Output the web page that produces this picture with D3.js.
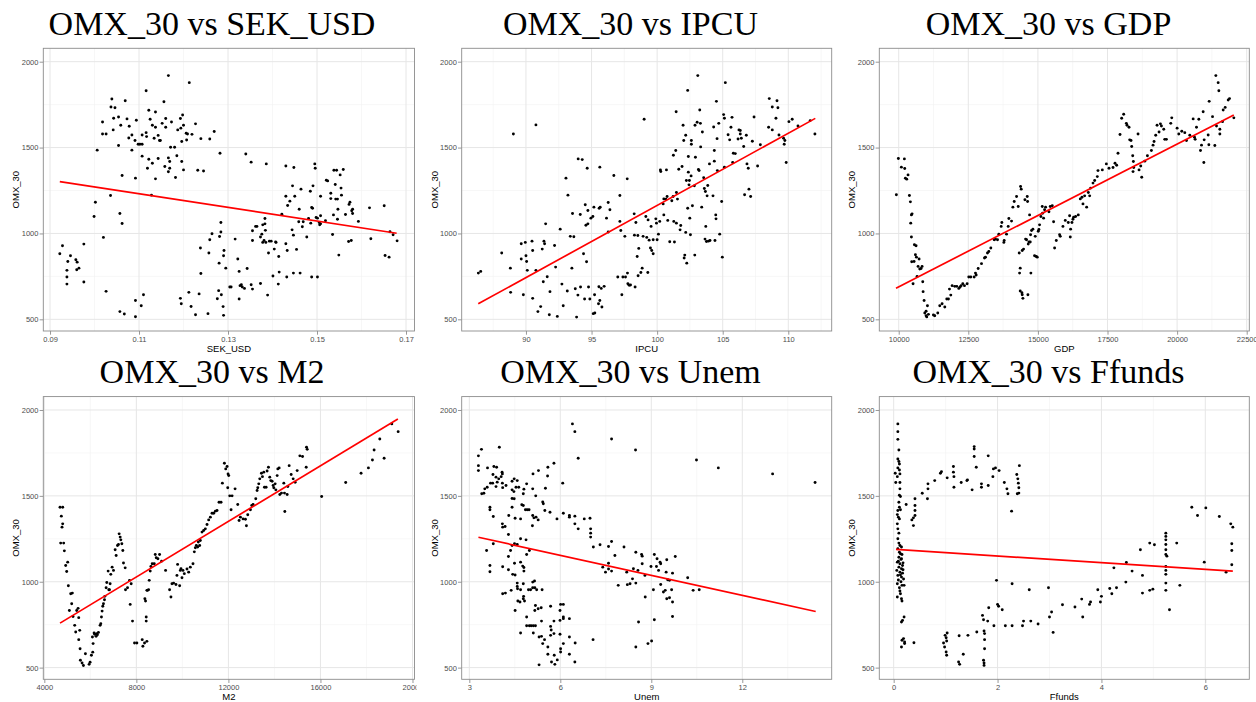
<!DOCTYPE html>
<html>
<head>
<meta charset="utf-8">
<script src="https://cdn.jsdelivr.net/npm/d3@7"></script>
<style>
  body { margin: 0; background: #fff; }
  svg { display: block; }
</style>
</head>
<body>
<div id="chart"></div>
<script>
// ---- data ----
const omxTicks = [500, 1000, 1500, 2000];
const omxMinor = [750, 1250, 1750];
const omxDomain = [432, 2078];

// SEK_USD vs OMX_30
const sekUsdPts = [
  [0.0922,882],[0.0928,928],[0.0940,837],[0.0938,785],[0.0938,746],[0.0938,705],[0.0946,870],[0.0958,847],
  [0.0961,833],[0.0960,789],[0.0965,798],[0.0976,938],[0.0976,717],[0.0999,1099],[0.1002,1182],[0.1006,1485],
  [0.1018,1649],[0.1020,977],[0.1018,1579],[0.1026,1579],[0.1026,663],[0.1036,1221],[0.1037,1736],[0.1039,1783],
  [0.1042,1603],[0.1043,1671],[0.1046,1732],[0.1054,1678],[0.1054,1512],[0.1057,1116],[0.1057,545],[0.1059,1630],
  [0.1062,1337],[0.1062,1058],[0.1067,531],[0.1069,1773],[0.1073,1667],[0.1077,1556],[0.1078,1624],[0.1084,1573],
  [0.1084,1485],[0.1091,1541],[0.1092,1322],[0.1092,610],[0.1092,515],[0.1094,1659],[0.1098,1519],[0.1102,1519],
  [0.1105,579],[0.1107,1573],[0.1107,1450],[0.1107,1519],[0.1110,643],[0.1116,1831],[0.1116,1587],[0.1117,1564],
  [0.1119,1380],[0.1122,1717],[0.1122,1432],[0.1125,1665],[0.1128,1223],[0.1130,1630],[0.1130,1409],[0.1134,1554],
  [0.1137,1707],[0.1137,1618],[0.1137,1318],[0.1143,1436],[0.1143,1571],[0.1146,1541],[0.1148,1541],[0.1152,1641],
  [0.1156,1767],[0.1158,1390],[0.1160,1618],[0.1160,1669],[0.1166,1919],[0.1166,1440],[0.1166,1359],[0.1169,1419],
  [0.1169,1380],[0.1171,1502],[0.1173,1649],[0.1180,1502],[0.1182,1326],[0.1185,1452],[0.1187,1603],[0.1193,1669],
  [0.1194,1613],[0.1196,1419],[0.1196,1535],[0.1198,1690],[0.1200,1370],[0.1200,1630],[0.1193,622],[0.1195,591],
  [0.1206,1583],[0.1207,1544],[0.1209,1579],[0.1213,1878],[0.1212,657],[0.1217,575],[0.1219,1577],[0.1227,1638],
  [0.1227,527],[0.1232,1368],[0.1235,648],[0.1238,915],[0.1239,1552],[0.1239,767],[0.1245,1364],[0.1255,533],
  [0.1257,886],[0.1259,1550],[0.1259,963],[0.1264,998],[0.1269,1594],[0.1276,620],[0.1279,667],[0.1280,827],
  [0.1281,982],[0.1282,1467],[0.1284,1064],[0.1284,1008],[0.1285,643],[0.1289,574],[0.1290,523],[0.1290,870],
  [0.1291,901],[0.1295,798],[0.1304,688],[0.1307,688],[0.1316,967],[0.1322,851],[0.1325,618],[0.1325,779],
  [0.1327,696],[0.1330,701],[0.1332,688],[0.1337,680],[0.1340,1463],[0.1343,796],[0.1352,1415],[0.1352,701],
  [0.1355,959],[0.1355,1016],[0.1355,676],[0.1362,1041],[0.1365,1041],[0.1373,709],[0.1373,979],[0.1376,996],
  [0.1378,948],[0.1378,1050],[0.1381,959],[0.1383,1056],[0.1383,1087],[0.1384,1018],[0.1385,948],[0.1386,1405],
  [0.1389,641],[0.1391,886],[0.1393,955],[0.1397,955],[0.1401,752],[0.1404,909],[0.1407,950],[0.1408,948],
  [0.1414,866],[0.1415,775],[0.1413,705],[0.1421,1112],[0.1430,1393],[0.1430,1217],[0.1430,940],[0.1432,746],
  [0.1433,901],[0.1434,1163],[0.1439,1188],[0.1444,1021],[0.1445,1277],[0.1447,990],[0.1447,769],[0.1448,1384],
  [0.1450,1217],[0.1454,907],[0.1459,1068],[0.1460,1141],[0.1462,769],[0.1464,1258],[0.1467,1039],[0.1469,1068],
  [0.1477,979],[0.1481,1087],[0.1485,1246],[0.1486,1060],[0.1488,1151],[0.1488,746],[0.1490,1147],[0.1491,1277],
  [0.1495,1405],[0.1496,1380],[0.1498,1093],[0.1501,1089],[0.1501,746],[0.1505,1064],[0.1506,1050],[0.1508,1056],
  [0.1508,1103],[0.1508,1217],[0.1519,1074],[0.1521,1310],[0.1524,1306],[0.1531,1234],[0.1531,1203],[0.1535,994],
  [0.1537,1108],[0.1538,1368],[0.1541,1285],[0.1542,1200],[0.1544,1368],[0.1546,1200],[0.1546,1083],[0.1547,1141],
  [0.1549,874],[0.1552,1341],[0.1554,1264],[0.1555,1223],[0.1559,1372],[0.1564,1110],[0.1571,953],[0.1572,1169],
  [0.1574,1182],[0.1577,959],[0.1578,1132],[0.1580,1116],[0.1580,1141],[0.1593,1070],[0.1618,1149],[0.1621,969],
  [0.1651,1161],[0.1653,872],[0.1662,862],[0.1664,1010],[0.1671,992],[0.1680,957]
];
const sekUsdFit = [[0.0922,1302],[0.1679,1001]];

// IPCU vs OMX_30
const ipcuPts = [
  [86.37,769],[86.55,779],[88.15,886],[88.81,798],[88.83,657],[89.04,1579],[89.64,940],[89.64,851],
  [89.80,643],[89.95,948],[90.00,870],[90.05,837],[90.10,785],[90.46,955],[90.51,901],[90.51,622],
  [90.76,1632],[90.76,785],[90.91,545],[91.12,574],[91.24,909],[91.32,719],[91.37,955],[91.42,940],
  [91.50,1056],[91.62,748],[91.78,527],[91.83,661],[92.18,930],[92.26,804],[92.39,517],[92.61,1025],
  [92.74,705],[92.84,579],[93.05,1322],[93.15,665],[93.20,1223],[93.38,983],[93.50,798],[93.55,1116],
  [93.65,981],[93.76,678],[93.86,513],[93.96,641],[93.98,1434],[94.14,1110],[94.16,688],[94.29,1430],
  [94.39,882],[94.47,618],[94.52,1167],[94.57,1048],[94.62,835],[94.67,1380],[94.72,1056],[94.72,1134],
  [94.77,688],[94.87,618],[94.95,1089],[95.10,1099],[95.18,1153],[95.23,643],[95.13,533],[95.25,537],
  [95.56,690],[95.63,1386],[95.58,1147],[95.53,591],[95.66,1153],[95.63,610],[95.74,680],[95.79,572],
  [95.96,692],[96.14,1089],[96.27,1180],[96.27,1008],[96.40,1138],[96.70,1337],[97.00,746],[97.16,1221],
  [97.16,1070],[97.23,1017],[97.31,643],[97.39,746],[97.54,983],[97.59,746],[97.72,1318],[97.74,769],
  [97.77,707],[97.87,698],[97.97,700],[98.25,1114],[98.27,990],[98.32,688],[98.38,1064],[98.48,866],
  [98.53,988],[98.55,754],[98.60,913],[98.76,773],[98.86,798],[98.93,983],[99.01,1665],[99.14,1099],
  [99.21,977],[99.29,773],[99.31,1079],[99.39,961],[99.49,915],[99.54,1041],[99.59,901],[99.70,882],
  [99.70,963],[99.90,1085],[99.95,1060],[100.00,963],[100.10,996],[100.20,1070],[100.25,1370],[100.28,1360],
  [100.46,1172],[100.51,1201],[100.51,1108],[100.66,1200],[100.71,1370],[100.76,1215],[100.81,1076],[100.96,952],
  [101.12,1190],[101.22,1215],[101.24,1455],[101.27,1070],[101.32,950],[101.42,1483],[101.45,1709],[101.47,1060],
  [101.47,1238],[101.55,1200],[101.65,1374],[101.75,1021],[101.80,1046],[101.90,1390],[101.98,1630],[102.03,1541],
  [102.06,857],[102.11,874],[102.18,1572],[102.18,1006],[102.23,1308],[102.26,827],[102.33,1833],[102.33,1147],
  [102.38,1448],[102.38,1357],[102.43,1283],[102.46,1308],[102.49,1089],[102.54,992],[102.59,1335],[102.61,1519],
  [102.61,1541],[102.69,1161],[102.84,1277],[102.87,874],[102.89,1630],[102.92,1444],[103.05,1647],[103.10,1919],
  [103.15,1372],[103.20,1366],[103.25,1719],[103.30,1641],[103.32,1504],[103.40,1153],[103.45,1591],[103.55,1324],
  [103.60,1262],[103.65,967],[103.68,1244],[103.71,1041],[103.76,953],[103.81,1219],[103.86,1279],[103.91,955],
  [103.99,1405],[104.03,959],[104.26,1219],[104.31,1620],[104.36,1483],[104.36,1421],[104.41,959],[104.47,1108],
  [104.49,1085],[104.52,1769],[104.57,1552],[104.59,1366],[104.70,1641],[104.77,996],[104.92,1186],[104.97,862],
  [105.07,1692],[105.13,1671],[105.13,1386],[105.20,1878],[105.41,1575],[105.53,1545],[105.63,1618],[105.71,1676],
  [105.76,1413],[105.81,1467],[105.96,1465],[106.17,1550],[106.24,1603],[106.34,1599],[106.34,1579],[106.42,1554],
  [106.60,1506],[106.67,1225],[106.80,1572],[106.85,1405],[106.95,1380],[107.00,1258],[107.13,1215],[107.26,1537],
  [107.39,1678],[107.66,1393],[107.87,1516],[108.50,1618],[108.55,1785],[108.78,1603],[108.78,1736],[109.06,1671],
  [109.14,1773],[109.21,1732],[109.29,1573],[109.64,1554],[109.69,1519],[109.74,1541],[109.84,1413],[110.05,1651],
  [110.30,1665],[110.74,1626],[111.67,1657],[112.03,1579]
];
const ipcuFit = [[86.36,590],[112.06,1670]];

// GDP vs OMX_30
const gdpPts = [
  [9916,1225],[9988,1436],[10096,1386],[10204,1434],[10216,1378],[10240,1322],[10288,1316],[10336,1341],
  [10384,1221],[10420,1184],[10456,1108],[10480,1114],[10432,1060],[10456,979],[10468,835],[10516,707],
  [10552,837],[10564,934],[10600,876],[10624,928],[10636,862],[10660,750],[10696,808],[10732,851],
  [10756,793],[10804,796],[10840,808],[10864,719],[10876,661],[10912,610],[10936,537],[10984,521],
  [10984,547],[11032,579],[11068,529],[11008,514],[11247,525],[11295,521],[11403,537],[11475,579],
  [11559,591],[11655,572],[11727,618],[11787,618],[11823,676],[11871,641],[11919,696],[12014,692],
  [12086,692],[12158,680],[12206,688],[12242,696],[12302,707],[12362,696],[12458,707],[12518,746],
  [12590,746],[12710,746],[12758,769],[12782,758],[12854,796],[12974,824],[13081,857],[13117,862],
  [13189,886],[13237,895],[13309,915],[13429,963],[13477,967],[13549,963],[13596,996],[13680,1041],
  [13705,1064],[13777,948],[13789,959],[13873,996],[13933,1041],[13957,1087],[14053,1072],[14101,1153],
  [14149,1186],[14233,1215],[14293,1157],[14329,886],[14341,769],[14365,798],[14365,665],[14377,1273],
  [14401,1258],[14425,655],[14437,643],[14437,901],[14461,622],[14485,909],[14533,1196],[14557,967],
  [14593,963],[14617,1215],[14629,1186],[14641,643],[14653,938],[14677,950],[14701,1108],[14725,950],
  [14736,992],[14748,769],[14772,1017],[14820,1025],[14880,870],[14904,983],[14940,866],[14976,862],
  [15012,1013],[15036,1023],[15060,1050],[15108,1099],[15156,1157],[15168,1118],[15204,1089],[15240,1138],
  [15276,1153],[15396,1126],[15444,1157],[15516,1161],[15564,1068],[15600,915],[15660,959],[15779,992],
  [15803,983],[15899,1041],[15983,1076],[16091,1064],[16139,1103],[16163,979],[16175,1025],[16223,1064],
  [16259,1083],[16283,1095],[16355,1099],[16451,1108],[16523,1201],[16583,1211],[16619,1172],[16679,1219],
  [16751,1153],[16811,1238],[16859,1219],[16895,1264],[16979,1293],[17039,1308],[17134,1331],[17158,1366],
  [17314,1370],[17458,1405],[17554,1380],[17698,1384],[17770,1409],[17829,1397],[17877,1467],[17949,1576],
  [18009,1671],[18081,1694],[18177,1641],[18201,1630],[18273,1618],[18297,1545],[18345,1541],[18369,1506],
  [18405,1452],[18429,1419],[18417,1360],[18441,1384],[18597,1579],[18633,1370],[18693,1393],[18729,1327],
  [18837,1421],[18933,1452],[19076,1483],[19136,1514],[19172,1535],[19232,1572],[19280,1630],[19352,1591],
  [19400,1638],[19436,1626],[19520,1607],[19556,1548],[19616,1548],[19772,1641],[19808,1673],[20000,1613],
  [20060,1579],[20168,1595],[20276,1587],[20336,1541],[20456,1572],[20576,1667],[20624,1560],[20648,1548],
  [20696,1618],[20780,1665],[20840,1483],[20876,1514],[20936,1709],[20960,1413],[20972,1545],[21116,1573],
  [21140,1516],[21152,1769],[21272,1680],[21355,1512],[21391,1919],[21415,1626],[21475,1878],[21499,1831],
  [21535,1607],[21535,1579],[21631,1651],[21655,1719],[21727,1734],[21835,1777],[21883,1785],[22038,1673]
];
const gdpFit = [[9903,681],[22036,1690]];

// M2 vs OMX_30
const m2Pts = [
  [4682,1434],[4799,1434],[4711,1225],[4740,1382],[4770,1318],[4799,1337],[4842,1225],[4871,1180],
  [4929,1095],[4973,1060],[5016,1114],[5045,977],[5089,833],[5147,930],[5190,872],[5219,934],
  [5248,798],[5321,746],[5364,707],[5408,833],[5467,845],[5496,791],[5539,717],[5496,663],
  [5554,610],[5568,543],[5641,527],[5699,512],[5786,581],[5946,519],[5989,531],[6047,572],
  [6090,678],[6105,590],[6120,640],[6163,702],[6192,694],[6250,682],[6279,698],[6308,692],
  [6352,705],[6425,746],[6454,756],[6483,795],[6512,829],[6541,857],[6570,872],[6614,895],
  [6628,915],[6686,965],[6715,996],[6773,1062],[6802,953],[6831,953],[6860,988],[6889,1043],
  [6948,1085],[7006,1066],[7078,1186],[7122,1153],[7180,1211],[7223,1217],[7252,1279],[7296,1260],
  [7325,1244],[7369,1221],[7412,1182],[7441,1109],[7514,1081],[7528,953],[7616,965],[7703,1008],
  [7732,868],[7775,988],[7833,771],[7920,643],[8022,643],[8254,663],[8283,624],[8356,643],
  [8457,653],[8370,901],[8399,888],[8428,795],[8428,771],[8457,950],[8486,950],[8530,953],
  [8559,1008],[8603,1062],[8632,1089],[8690,1105],[8777,1105],[8821,1159],[8864,1140],[8937,1134],
  [9009,1159],[9096,1120],[9270,1066],[9445,953],[9503,911],[9547,988],[9619,992],[9721,984],
  [9764,1037],[9793,1101],[9881,977],[9910,1066],[9939,1076],[9982,1023],[10026,1066],[10084,1047],
  [10200,1074],[10273,1056],[10345,1085],[10461,1105],[10519,1174],[10563,1198],[10606,1211],[10664,1202],
  [10693,1231],[10751,1211],[10780,1240],[10853,1289],[10925,1298],[10998,1308],[11071,1333],[11143,1360],
  [11216,1376],[11289,1399],[11361,1399],[11434,1411],[11506,1415],[11593,1463],[11680,1463],[11738,1574],
  [11826,1690],[11884,1657],[11942,1671],[11985,1628],[12014,1618],[11971,1547],[12058,1500],[12160,1500],
  [12116,1419],[12290,1541],[12406,1450],[12464,1357],[12522,1376],[12638,1366],[12740,1364],[12783,1326],
  [12841,1390],[12957,1419],[13015,1444],[13073,1450],[13189,1483],[13247,1531],[13276,1547],[13319,1570],
  [13363,1599],[13435,1632],[13479,1612],[13537,1638],[13566,1550],[13638,1550],[13682,1645],[13740,1667],
  [13798,1609],[13842,1589],[13900,1585],[13944,1560],[13973,1547],[14031,1570],[14060,1535],[14118,1618],
  [14147,1657],[14205,1663],[14234,1508],[14307,1516],[14408,1574],[14437,1516],[14452,1409],[14553,1508],
  [14582,1554],[14640,1676],[14727,1624],[14814,1599],[14901,1579],[14988,1647],[15105,1733],[15221,1729],
  [15381,1667],[15395,1783],[15424,1771],[16052,1496],[17097,1578],[17765,1632],[18085,1663],[18259,1709],
  [18332,1767],[18578,1831],[18767,1719],[19101,1919],[19377,1874]
];
const m2Fit = [[4683,759],[19364,1948]];

// Unem vs OMX_30
const unemPts = [
  [3.30,1733],[3.30,1676],[3.30,1647],[3.40,1771],[3.41,1512],[3.48,1515],[3.51,1541],[3.57,1182],
  [3.60,1663],[3.59,1550],[3.68,1434],[3.68,1419],[3.68,1095],[3.68,1058],[3.70,1574],[3.77,1574],
  [3.78,1624],[3.79,1380],[3.79,1221],[3.81,1671],[3.88,1609],[3.88,1554],[3.90,1667],[3.92,1580],
  [3.97,1599],[3.99,1783],[4.05,1612],[4.08,1638],[4.09,1628],[4.10,1548],[4.09,1574],[4.09,1337],
  [4.10,1318],[4.10,1087],[4.10,930],[4.18,1322],[4.19,934],[4.21,1560],[4.29,1275],[4.29,1147],
  [4.29,1070],[4.30,1386],[4.36,1182],[4.38,950],[4.41,1585],[4.41,1535],[4.41,1485],[4.41,1434],
  [4.41,1211],[4.43,1043],[4.47,1525],[4.48,1599],[4.48,1483],[4.49,1221],[4.49,1108],[4.51,1370],
  [4.51,1039],[4.51,833],[4.54,1550],[4.58,1589],[4.58,1217],[4.58,992],[4.58,973],[4.59,959],
  [4.60,888],[4.63,1550],[4.67,882],[4.69,1366],[4.69,1250],[4.69,1114],[4.69,953],[4.69,702],
  [4.73,1448],[4.76,1091],[4.78,1512],[4.78,1444],[4.78,988],[4.78,901],[4.79,915],[4.80,1539],
  [4.80,1083],[4.80,1062],[4.82,888],[4.85,1419],[4.87,1244],[4.89,1159],[4.89,1570],[4.89,795],
  [4.89,744],[4.91,1419],[4.95,953],[4.97,1419],[4.98,1182],[4.98,744],[5.02,953],[5.04,744],
  [5.08,1326],[5.09,1386],[5.09,1541],[5.10,1628],[5.09,998],[5.09,965],[5.11,744],[5.11,702],
  [5.13,1372],[5.15,1004],[5.16,965],[5.18,862],[5.16,833],[5.18,744],[5.19,1500],[5.20,1376],
  [5.22,953],[5.27,1360],[5.28,1647],[5.27,843],[5.30,678],[5.30,516],[5.37,849],[5.38,771],
  [5.38,682],[5.40,953],[5.42,640],[5.42,1465],[5.44,1454],[5.48,663],[5.49,1415],[5.51,1544],
  [5.59,1667],[5.58,1616],[5.59,620],[5.59,578],[5.66,1405],[5.68,740],[5.68,688],[5.68,857],
  [5.70,719],[5.71,533],[5.79,1690],[5.79,771],[5.79,698],[5.80,572],[5.82,519],[5.89,1366],
  [5.90,545],[5.99,833],[5.99,775],[5.99,694],[6.01,868],[6.01,610],[6.01,591],[6.08,1574],
  [6.10,1399],[6.10,868],[6.10,795],[6.10,785],[6.10,640],[6.30,1386],[6.30,1376],[6.30,785],
  [6.30,678],[6.30,578],[6.40,1919],[6.48,1874],[6.48,1382],[6.48,1337],[6.49,643],[6.48,533],
  [6.59,1719],[6.59,1308],[6.79,1366],[6.98,1370],[7.00,1308],[7.00,1283],[7.00,1260],[7.08,663],
  [7.09,1202],[7.31,1215],[7.40,1085],[7.49,1056],[7.59,1205],[7.59,1108],[7.59,1074],[7.69,1831],
  [7.69,1234],[7.69,1062],[7.80,1153],[7.91,979],[8.10,1202],[8.19,1056],[8.21,983],[8.30,988],
  [8.38,1017],[8.41,1076],[8.48,1767],[8.49,1172],[8.49,992],[8.49,620],[8.56,1066],[8.58,766],
  [8.68,1159],[8.70,1149],[8.70,1105],[8.79,1037],[8.80,911],[8.89,640],[8.99,1089],[9.01,655],
  [9.07,953],[9.10,1159],[9.10,779],[9.17,1089],[9.19,1134],[9.24,1066],[9.29,1114],[9.31,984],
  [9.31,1105],[9.40,940],[9.46,950],[9.51,1128],[9.49,1056],[9.51,901],[9.54,1012],[9.60,1008],
  [9.60,907],[9.67,953],[9.70,1050],[9.70,882],[9.70,798],[9.79,1147],[10.20,1023],[10.38,950],
  [10.49,1709],[10.58,953],[11.21,1663],[13.00,1628],[14.40,1578]
];
const unemFit = [[3.30,1259],[14.42,827]];

// Ffunds vs OMX_30
const ffundsPts = [
  [0.08,1919],[0.08,1874],[0.08,1829],[0.10,1767],[0.08,1715],[0.10,1700],[0.11,1686],[0.08,1663],
  [0.11,1651],[0.12,1628],[0.03,1632],[0.07,1612],[0.04,1578],[0.12,1578],[0.12,1541],[0.11,1504],
  [0.13,1496],[0.10,1463],[0.11,1434],[0.08,1415],[0.13,1419],[0.07,1391],[0.09,1376],[0.11,1366],
  [0.07,1337],[0.08,1308],[0.10,1283],[0.08,1250],[0.10,1225],[0.12,1211],[0.15,1202],[0.08,1192],
  [0.11,1172],[0.13,1163],[0.16,1159],[0.10,1143],[0.15,1134],[0.07,1114],[0.12,1105],[0.17,1095],
  [0.10,1085],[0.15,1076],[0.06,1066],[0.12,1056],[0.17,1050],[0.08,1037],[0.15,1027],[0.19,1016],
  [0.07,988],[0.11,965],[0.16,979],[0.20,979],[0.12,946],[0.07,911],[0.15,901],[0.16,888],
  [0.15,766],[0.17,775],[0.20,795],[0.19,669],[0.16,659],[0.21,649],[0.21,640],[0.15,620],
  [0.14,1130],[0.09,1120],[0.18,1070],[0.13,1040],[0.09,1010],[0.14,1000],[0.18,1110],[0.13,930],
  [0.24,1450],[0.35,1360],[0.38,1372],[0.38,1327],[0.39,645],[0.41,1386],[0.41,1415],[0.41,1444],
  [0.41,1483],[0.55,1515],[0.65,1483],[0.66,1541],[0.66,1570],[0.79,1589],[0.90,1632],[0.92,1641],
  [1.03,1605],[1.15,1671],[1.15,1638],[1.16,1612],[1.16,1550],[1.30,1578],[1.41,1589],[1.42,1593],
  [1.51,1535],[1.55,1787],[1.55,1773],[1.55,1729],[1.59,1667],[1.69,1570],[1.69,1550],[1.82,1560],
  [1.82,1733],[1.91,1612],[1.92,1657],[1.96,1663],[2.03,1647],[2.13,1578],[2.18,1541],[2.20,1512],
  [2.27,1411],[2.37,1624],[2.39,1599],[2.40,1574],[2.41,1547],[2.38,1512],[2.41,1516],[2.42,1676],
  [0.96,643],[0.98,620],[0.99,688],[1.01,674],[1.02,655],[1.03,702],[1.01,591],[1.02,572],
  [1.25,533],[1.27,519],[1.26,686],[1.34,578],[1.43,688],[1.60,707],[1.71,804],[1.73,779],
  [1.74,713],[1.75,698],[1.75,663],[1.75,610],[1.73,543],[1.74,527],[1.74,513],[1.81,771],
  [1.83,849],[1.93,744],[1.98,1008],[2.00,868],[2.02,857],[2.09,837],[2.15,744],[2.28,744],
  [2.28,988],[2.48,744],[2.50,771],[2.61,953],[2.64,771],[2.78,754],[2.98,965],[3.00,795],
  [3.04,824],[3.07,705],[3.25,866],[3.49,853],[3.62,899],[3.64,795],[3.77,868],[3.79,882],
  [3.93,953],[3.98,882],[4.00,915],[4.16,961],[4.20,930],[4.24,1081],[4.29,965],[4.47,998],
  [4.48,1112],[4.59,1062],[4.75,1186],[4.79,1037],[4.79,934],[4.93,1225],[4.93,950],[4.99,957],
  [5.02,1215],[5.24,1283],[5.24,1264],[5.24,1244],[5.24,1217],[5.24,1186],[5.24,1159],[5.24,1089],
  [5.24,1066],[5.24,1043],[5.24,992],[5.24,950],[5.26,1149],[5.31,837],[5.45,1225],[5.51,979],
  [5.74,1434],[5.85,1386],[5.98,1114],[6.01,1430],[6.27,1380],[6.40,1056],[6.49,1337],[6.53,1318],
  [6.51,1221],[6.51,1182],[6.51,1099]
];
const ffundsFit = [[0.044,1188],[6.53,1062]];

const panels = [
  { title: 'OMX_30 vs SEK_USD', xLabel: 'SEK_USD', pts: sekUsdPts, fit: sekUsdFit,
    xTicks: [0.09, 0.11, 0.13, 0.15, 0.17], xMinor: [0.10, 0.12, 0.14, 0.16],
    xDomain: [0.08849, 0.17191], fmt: d3.format('.2f') },
  { title: 'OMX_30 vs IPCU', xLabel: 'IPCU', pts: ipcuPts, fit: ipcuFit,
    xTicks: [90, 95, 100, 105, 110], xMinor: [87.5, 92.5, 97.5, 102.5, 107.5, 112.5],
    xDomain: [85.1, 113.31], fmt: d3.format('d') },
  { title: 'OMX_30 vs GDP', xLabel: 'GDP', pts: gdpPts, fit: gdpFit,
    xTicks: [10000, 12500, 15000, 17500, 20000, 22500], xMinor: [11250, 13750, 16250, 18750, 21250],
    xDomain: [9303, 22593], fmt: d3.format('d') },
  { title: 'OMX_30 vs M2', xLabel: 'M2', pts: m2Pts, fit: m2Fit,
    xTicks: [4000, 8000, 12000, 16000, 20000], xMinor: [6000, 10000, 14000, 18000],
    xDomain: [3956, 20087], fmt: d3.format('d') },
  { title: 'OMX_30 vs Unem', xLabel: 'Unem', pts: unemPts, fit: unemFit,
    xTicks: [3, 6, 9, 12], xMinor: [4.5, 7.5, 10.5, 13.5],
    xDomain: [2.749, 14.948], fmt: d3.format('d') },
  { title: 'OMX_30 vs Ffunds', xLabel: 'Ffunds', pts: ffundsPts, fit: ffundsFit,
    xTicks: [0, 2, 4, 6], xMinor: [1, 3, 5],
    xDomain: [-0.277, 6.847], fmt: d3.format('d') }
];

// ---- layout ----
const W = 1256, H = 702;
const colLeft = [43.3, 461.7, 879.3];
const colRight = [414.5, 831.7, 1249.3];
const colEdge = [0, 416.5, 837.3, 1256];
const titleX = [212, 630.5, 1048.5];
const rowTop = [48.3, 396.6];
const panelH = 282.7;

const svg = d3.select('#chart').append('svg')
    .attr('width', W)
    .attr('height', H)
    .style('font-family', '"Liberation Sans", Arial, sans-serif');

panels.forEach((p, i) => {
    const col = i % 3, row = Math.floor(i / 3);
    const left = colLeft[col], right = colRight[col];
    const top = rowTop[row], bottom = top + panelH;

    // each sub-plot is clipped to its own third of the page
    svg.append('clipPath').attr('id', 'clip' + i)
        .append('rect')
        .attr('x', colEdge[col]).attr('y', 0)
        .attr('width', colEdge[col + 1] - colEdge[col]).attr('height', H);
    const g = svg.append('g').attr('clip-path', `url(#clip${i})`);

    const x = d3.scaleLinear().domain(p.xDomain).range([left, right]);
    const y = d3.scaleLinear().domain(omxDomain).range([bottom, top]);

    // minor grid
    g.selectAll('.xminor').data(p.xMinor).enter().append('line')
        .attr('x1', d => x(d)).attr('x2', d => x(d))
        .attr('y1', top).attr('y2', bottom)
        .attr('stroke', '#f2f2f2').attr('stroke-width', 0.6);
    g.selectAll('.yminor').data(omxMinor).enter().append('line')
        .attr('x1', left).attr('x2', right)
        .attr('y1', d => y(d)).attr('y2', d => y(d))
        .attr('stroke', '#f2f2f2').attr('stroke-width', 0.6);

    // major grid
    g.selectAll('.xmajor').data(p.xTicks).enter().append('line')
        .attr('x1', d => x(d)).attr('x2', d => x(d))
        .attr('y1', top).attr('y2', bottom)
        .attr('stroke', '#e6e6e6').attr('stroke-width', 1);
    g.selectAll('.ymajor').data(omxTicks).enter().append('line')
        .attr('x1', left).attr('x2', right)
        .attr('y1', d => y(d)).attr('y2', d => y(d))
        .attr('stroke', '#e6e6e6').attr('stroke-width', 1);

    // points
    g.append('g').selectAll('circle').data(p.pts).enter().append('circle')
        .attr('cx', d => x(d[0]))
        .attr('cy', d => y(d[1]))
        .attr('r', 1.45)
        .attr('fill', '#000');

    // fitted line
    g.append('path')
        .datum(p.fit)
        .attr('fill', 'none')
        .attr('stroke', '#ff0000')
        .attr('stroke-width', 1.7)
        .attr('d', d3.line().x(d => x(d[0])).y(d => y(d[1])));

    // panel border
    g.append('rect')
        .attr('x', left).attr('y', top)
        .attr('width', right - left).attr('height', bottom - top)
        .attr('fill', 'none').attr('stroke', '#8c8c8c').attr('stroke-width', 0.9);

    // axes
    const xAxis = g.append('g')
        .attr('transform', `translate(0,${bottom})`)
        .call(d3.axisBottom(x).tickValues(p.xTicks).tickFormat(p.fmt).tickSize(3.7).tickPadding(1.6));
    const yAxis = g.append('g')
        .attr('transform', `translate(${left},0)`)
        .call(d3.axisLeft(y).tickValues(omxTicks).tickFormat(d3.format('d')).tickSize(3.7).tickPadding(1.2));
    [xAxis, yAxis].forEach(a => {
        a.select('.domain').remove();
        a.selectAll('line').attr('stroke', '#8c8c8c').attr('stroke-width', 0.9);
        a.selectAll('text')
            .attr('fill', '#4d4d4d')
            .style('font-size', '7.5px')
            .style('font-family', '"Liberation Sans", Arial, sans-serif');
    });

    // axis titles
    g.append('text')
        .attr('x', (left + right) / 2)
        .attr('y', bottom + 21)
        .attr('text-anchor', 'middle')
        .attr('font-size', '9.5px')
        .attr('fill', '#000')
        .text(p.xLabel);
    g.append('text')
        .attr('transform', `translate(${left - 24},${(top + bottom) / 2}) rotate(-90)`)
        .attr('text-anchor', 'middle')
        .attr('font-size', '9.5px')
        .attr('fill', '#000')
        .text('OMX_30');

    // title
    g.append('text')
        .attr('x', titleX[col])
        .attr('y', top - 13.3)
        .attr('text-anchor', 'middle')
        .style('font-family', '"Liberation Serif", "Times New Roman", serif')
        .style('font-size', '34px')
        .attr('fill', '#000')
        .text(p.title);
});
</script>
</body>
</html>
